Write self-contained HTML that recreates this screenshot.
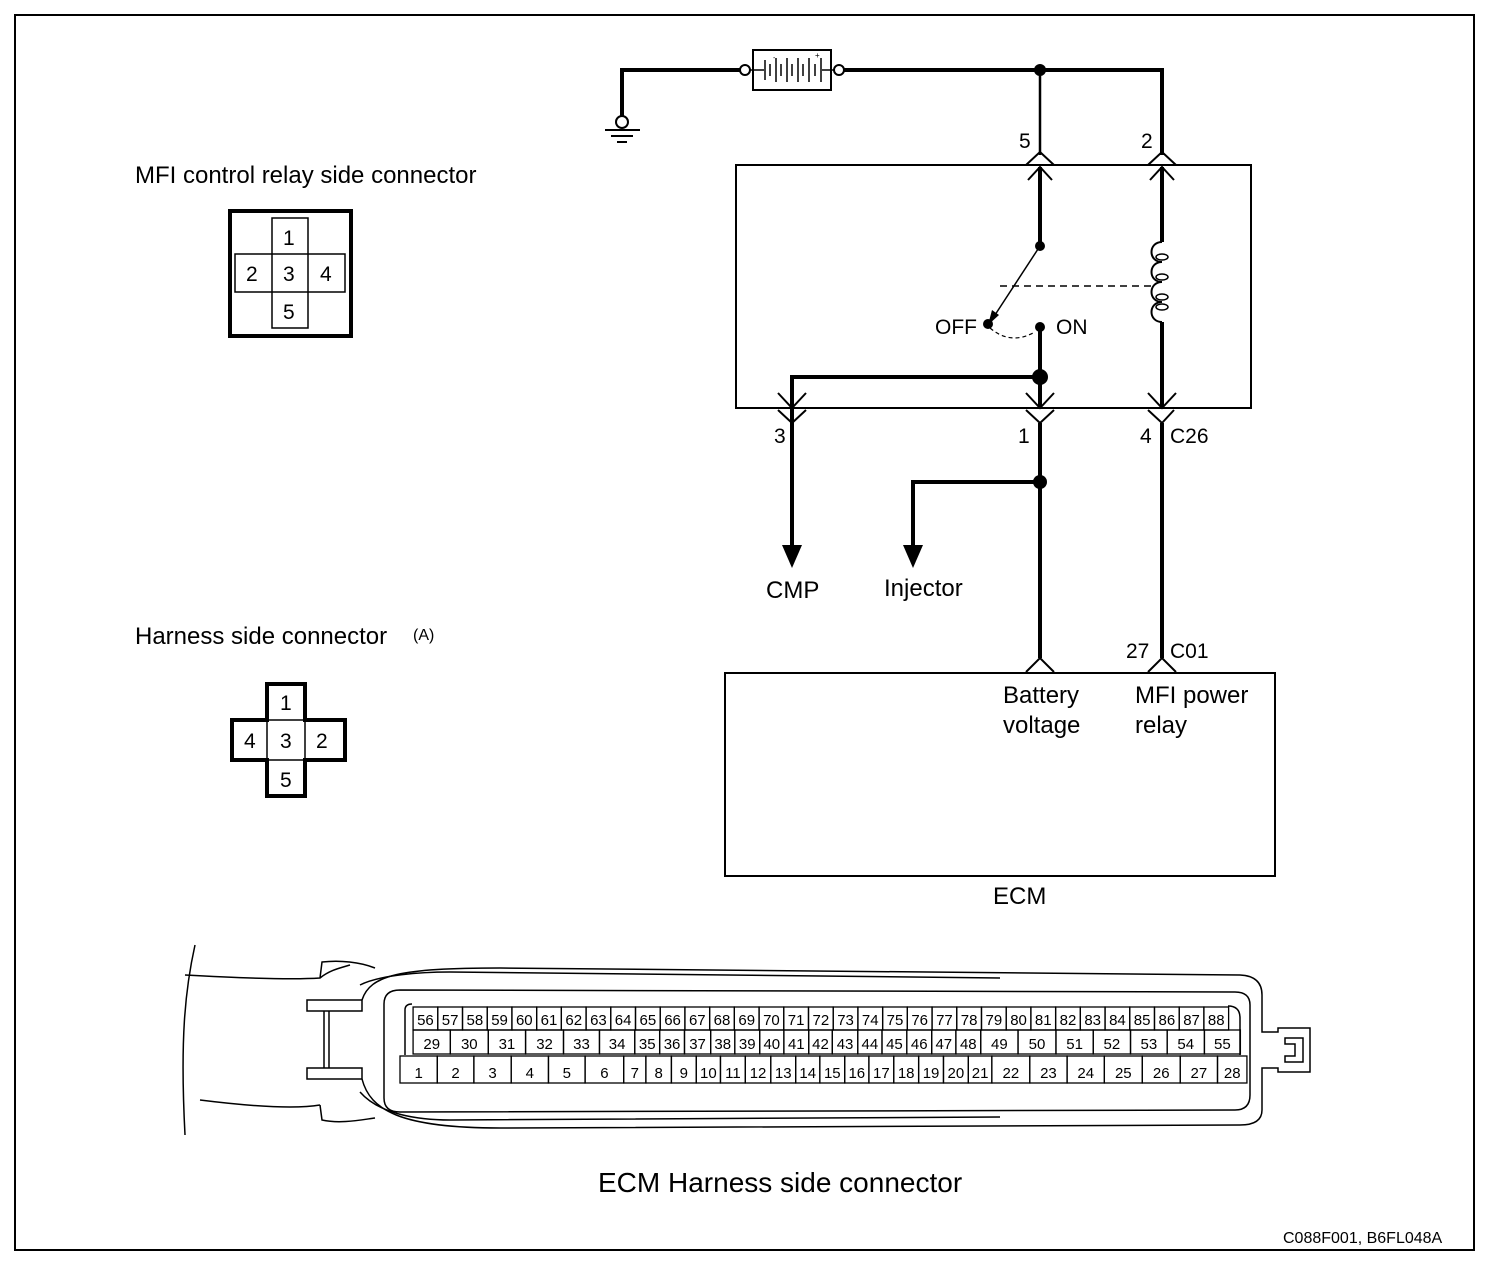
<!DOCTYPE html>
<html><head><meta charset="utf-8"><style>
html,body{margin:0;padding:0;background:#fff}
svg{display:block}
text{font-family:"Liberation Sans",Arial,sans-serif;fill:#000}
</style></head><body>
<svg id="s" width="1504" height="1264" viewBox="0 0 1504 1264" xmlns="http://www.w3.org/2000/svg">
<rect x="15" y="15" width="1459" height="1235" fill="none" stroke="#000" stroke-width="2"/>

<g fill="none" stroke="#000" stroke-width="4">
<path d="M622 117 V70 H740"/>
<path d="M844 70 H1162 V155"/>
</g>
<line x1="1040" y1="70" x2="1040" y2="155" stroke="#000" stroke-width="2.5"/>
<circle cx="1040" cy="70" r="6"/>
<circle cx="745" cy="70" r="5" fill="#fff" stroke="#000" stroke-width="2"/>
<circle cx="839" cy="70" r="5" fill="#fff" stroke="#000" stroke-width="2"/>
<rect x="753" y="50" width="78" height="40" fill="#fff" stroke="#000" stroke-width="2"/>
<g stroke="#000" stroke-width="1.5">
<line x1="750" y1="70" x2="764" y2="70"/><line x1="822" y1="70" x2="834" y2="70"/>
<line x1="765" y1="60" x2="765" y2="80"/><line x1="770" y1="64" x2="770" y2="76"/>
<line x1="776" y1="58" x2="776" y2="82"/><line x1="781" y1="64" x2="781" y2="76"/>
<line x1="787" y1="58" x2="787" y2="82"/><line x1="792" y1="64" x2="792" y2="76"/>
<line x1="798" y1="58" x2="798" y2="82"/><line x1="803" y1="64" x2="803" y2="76"/>
<line x1="809" y1="58" x2="809" y2="82"/><line x1="815" y1="64" x2="815" y2="76"/>
<line x1="821" y1="58" x2="821" y2="82"/>
</g>
<text x="773" y="60" font-size="7">-</text><text x="815" y="58" font-size="8">+</text>
<circle cx="622" cy="122" r="6" fill="#fff" stroke="#000" stroke-width="2"/>
<line x1="605" y1="130" x2="640" y2="130" stroke="#000" stroke-width="2"/>
<line x1="611" y1="136" x2="633" y2="136" stroke="#000" stroke-width="2"/>
<line x1="617" y1="142" x2="627" y2="142" stroke="#000" stroke-width="2"/>

<rect x="736" y="165" width="515" height="243" fill="none" stroke="#000" stroke-width="2"/>
<g fill="none" stroke="#000" stroke-width="2">
<path d="M1026 165 L1040 152 L1054 165"/><path d="M1028 180 L1040 167 L1052 180"/>
<path d="M1148 165 L1162 152 L1176 165"/><path d="M1150 180 L1162 167 L1174 180"/>
<path d="M778 393 L792 408 L806 393"/><path d="M778 410 L792 423 L806 410"/>
<path d="M1026 393 L1040 408 L1054 393"/><path d="M1026 410 L1040 423 L1054 410"/>
<path d="M1148 393 L1162 408 L1176 393"/><path d="M1148 410 L1162 423 L1174 410"/>
<path d="M1026 672 L1040 658 L1054 672"/><path d="M1148 672 L1162 658 L1176 672"/>
</g>
<g fill="none" stroke="#000" stroke-width="4">
<path d="M1040 167 V245"/>
<path d="M1040 330 V408"/>
<path d="M792 545 V377 H1040"/>
<path d="M1162 167 V242"/>
<path d="M1162 322 V408"/>
<path d="M1040 423 V658"/>
<path d="M1162 423 V658"/>
<path d="M1040 482 H913 V545"/>
</g>
<path d="M1162 242 c-14 0 -14 20 0 20 c-14 0 -14 20 0 20 c-14 0 -14 20 0 20 c-14 0 -14 20 0 20" fill="none" stroke="#000" stroke-width="2"/>
<g fill="none" stroke="#000" stroke-width="1.5">
<ellipse cx="1162" cy="257" rx="6" ry="3"/><ellipse cx="1162" cy="277" rx="6" ry="3"/><ellipse cx="1162" cy="297" rx="6" ry="3"/><ellipse cx="1162" cy="307" rx="6" ry="3"/>
</g>
<line x1="1000" y1="286" x2="1155" y2="286" stroke="#000" stroke-width="1.5" stroke-dasharray="7,5"/>
<line x1="1040" y1="246" x2="993" y2="318" stroke="#000" stroke-width="1.5"/>
<path d="M988 325 L992 310 L999 315 Z"/>
<path d="M990 328 Q1010 345 1033 333" fill="none" stroke="#000" stroke-width="1.2" stroke-dasharray="4,3"/>
<circle cx="1040" cy="246" r="5"/><circle cx="988" cy="324" r="5"/><circle cx="1040" cy="327" r="5"/>
<circle cx="1040" cy="377" r="8"/><circle cx="1040" cy="482" r="7"/>
<path d="M782 545 L802 545 L792 568 Z"/><path d="M903 545 L923 545 L913 568 Z"/>
<g font-size="21">
<text x="1019" y="148">5</text><text x="1141" y="148">2</text>
<text x="935" y="334">OFF</text><text x="1056" y="334">ON</text>
<text x="774" y="443">3</text><text x="1018" y="443">1</text><text x="1140" y="443">4</text><text x="1170" y="443">C26</text>
<text x="1126" y="658">27</text><text x="1170" y="658">C01</text>
</g>
<g font-size="24">
<text x="766" y="598">CMP</text><text x="884" y="596">Injector</text>
<text x="1003" y="703">Battery</text><text x="1003" y="733">voltage</text>
<text x="1135" y="703">MFI power</text><text x="1135" y="733">relay</text>
<text x="993" y="904">ECM</text>
<text x="135" y="183">MFI control relay side connector</text>
<text x="135" y="644">Harness side connector</text>
<text x="598" y="1192" font-size="28">ECM Harness side connector</text>
</g>
<text x="413" y="640" font-size="16">(A)</text>
<text x="1283" y="1243" font-size="16">C088F001, B6FL048A</text>
<rect x="725" y="673" width="550" height="203" fill="none" stroke="#000" stroke-width="2"/>

<rect x="230" y="211" width="121" height="125" fill="none" stroke="#000" stroke-width="4"/>
<g fill="none" stroke="#000" stroke-width="1.5">
<path d="M272 254 V218 H308 V254"/><rect x="235" y="254" width="110" height="38"/>
<line x1="272" y1="254" x2="272" y2="292"/><line x1="308" y1="254" x2="308" y2="292"/>
<path d="M272 292 V328 H308 V292"/>
</g>
<g font-size="21">
<text x="283" y="245">1</text><text x="246" y="281">2</text><text x="283" y="281">3</text><text x="320" y="281">4</text><text x="283" y="319">5</text>
</g>
<path d="M267 720 V684 H305 V720 H345 V760 H305 V796 H267 V760 H232 V720 Z" fill="none" stroke="#000" stroke-width="4"/>
<g stroke="#000" stroke-width="1.5">
<line x1="267" y1="720" x2="305" y2="720"/><line x1="267" y1="760" x2="305" y2="760"/>
<line x1="267" y1="720" x2="267" y2="760"/><line x1="305" y1="720" x2="305" y2="760"/>
</g>
<g font-size="21">
<text x="280" y="710">1</text><text x="244" y="748">4</text><text x="280" y="748">3</text><text x="316" y="748">2</text><text x="280" y="787">5</text>
</g>

<g fill="none" stroke="#000" stroke-width="1.5">
<path d="M195 945 C185 990 180 1040 185 1135"/>
<path d="M185 975 C240 978 290 980 320 978 C330 970 340 968 350 965"/>
<path d="M200 1100 C240 1105 290 1110 320 1105"/>
<path d="M320 978 L322 962 C340 960 360 962 375 968"/>
<path d="M320 1105 L322 1120 C340 1124 360 1120 375 1118"/>
<rect x="307" y="1000" width="55" height="11"/>
<rect x="307" y="1068" width="55" height="11"/>
<line x1="324" y1="1011" x2="324" y2="1068"/><line x1="329" y1="1011" x2="329" y2="1068"/>
<path d="M362 1000 C370 975 400 968 500 968 L1240 975 Q1262 976 1262 995 V1032 H1278 V1028 H1310 V1072 H1278 V1068 H1262 V1110 Q1262 1125 1240 1125 L500 1128 C400 1128 370 1110 362 1079"/>
<path d="M400 990 L1235 992 Q1250 992 1250 1005 V1095 Q1250 1110 1235 1110 L400 1112 Q384 1112 384 1098 V1004 Q384 990 400 990 Z"/>
<path d="M1285 1038 H1303 V1062 H1285 V1056 H1295 V1044 H1285 Z"/>
<path d="M360 985 C380 975 420 972 450 972 L1000 978"/>
<path d="M360 1092 C380 1115 420 1120 450 1120 L1000 1117"/>
<path d="M405 1055 V1010 Q405 1004 412 1004"/>
<path d="M1228 1006 Q1240 1006 1240 1018 V1055"/>
</g>
<g id="pins" font-size="15" text-anchor="middle"></g>
</svg>
<script>
(function(){
var g=document.getElementById('pins');var ns='http://www.w3.org/2000/svg';
function X(z){return 400+(z-155)*0.654;}
function row(bounds,start,y0,y1){
 for(var i=0;i<bounds.length-1;i++){
  var a=X(bounds[i]),b=X(bounds[i+1]);
  var r=document.createElementNS(ns,'rect');
  r.setAttribute('x',a);r.setAttribute('y',y0);r.setAttribute('width',b-a);r.setAttribute('height',y1-y0);
  r.setAttribute('fill','none');r.setAttribute('stroke','#000');r.setAttribute('stroke-width','1.3');g.appendChild(r);
  var t=document.createElementNS(ns,'text');t.setAttribute('x',(a+b)/2);t.setAttribute('y',y1-5);
  t.textContent=start+i;
  if(b-a<22){t.setAttribute('textLength',(b-a-2).toFixed(1));t.setAttribute('lengthAdjust','spacingAndGlyphs');}
  g.appendChild(t);
 }
}
var top=[];for(var i=0;i<=33;i++)top.push(175+i*(1422-175)/33);
row(top,56,1007,1030);
row([175,232,290,347,405,460,514,552,590,630,667,705,742,780,816,855,892,930,968,1005,1043,1100,1158,1215,1272,1328,1385,1440],29,1030,1054);
row([155,212,268,325,382,438,497,531,570,608,645,683,722,760,797,835,872,910,948,986,1024,1060,1118,1175,1232,1290,1348,1405,1450],1,1056,1083);
})();
</script>
</body></html>
